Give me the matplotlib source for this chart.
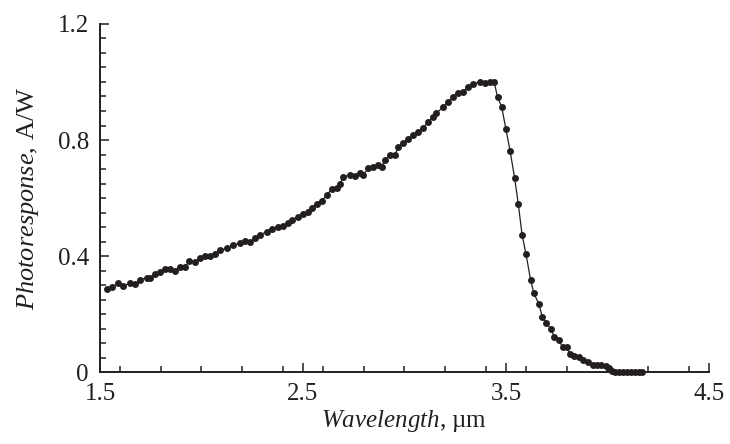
import numpy as np
import matplotlib
matplotlib.use("Agg")
import matplotlib.pyplot as plt
from matplotlib.ticker import MultipleLocator, FixedLocator, FixedFormatter

plt.rcParams['font.family'] = ['Liberation Serif', 'DejaVu Serif']
plt.rcParams['mathtext.fontset'] = 'custom'
plt.rcParams['mathtext.rm'] = 'Liberation Serif'
plt.rcParams['mathtext.it'] = 'Liberation Serif:italic'

# Datos (longitud de onda en um, respuesta en A/W)
wavelength = [
    1.533, 1.558, 1.590, 1.615, 1.648, 1.672, 1.697, 1.730, 1.746, 1.771,
    1.796, 1.820, 1.845, 1.869, 1.894, 1.919, 1.940, 1.968, 1.993, 2.017,
    2.042, 2.067, 2.091, 2.124, 2.157, 2.190, 2.214, 2.239, 2.264, 2.288,
    2.321, 2.346, 2.378, 2.403, 2.428, 2.444, 2.477, 2.501, 2.526, 2.543,
    2.567, 2.592, 2.617, 2.641, 2.666, 2.682, 2.699, 2.732, 2.756, 2.781,
    2.797, 2.822, 2.846, 2.871, 2.888, 2.904, 2.929, 2.953, 2.970, 2.994,
    3.019, 3.043, 3.068, 3.092, 3.117, 3.142, 3.158, 3.191, 3.215, 3.240,
    3.264, 3.289, 3.314, 3.338, 3.372, 3.397, 3.421, 3.442,
    3.459, 3.479, 3.500, 3.521, 3.543, 3.561, 3.580, 3.599, 3.622, 3.638,
    3.663, 3.679, 3.700, 3.720, 3.738, 3.761, 3.780, 3.799, 3.815, 3.837,
    3.861, 3.881, 3.905, 3.927, 3.950, 3.971, 3.993, 4.009, 4.021, 4.037,
    4.055, 4.075, 4.095, 4.115, 4.135, 4.155, 4.170,
]
photoresponse = [
    0.285, 0.294, 0.306, 0.298, 0.306, 0.302, 0.317, 0.326, 0.326, 0.338,
    0.344, 0.357, 0.354, 0.349, 0.363, 0.363, 0.383, 0.380, 0.392, 0.400,
    0.400, 0.407, 0.421, 0.426, 0.438, 0.444, 0.453, 0.449, 0.461, 0.472,
    0.484, 0.492, 0.501, 0.503, 0.513, 0.524, 0.536, 0.544, 0.553, 0.567,
    0.581, 0.591, 0.610, 0.630, 0.633, 0.650, 0.673, 0.679, 0.676, 0.685,
    0.679, 0.702, 0.706, 0.714, 0.708, 0.731, 0.748, 0.748, 0.777, 0.788,
    0.805, 0.817, 0.829, 0.840, 0.863, 0.881, 0.892, 0.915, 0.932, 0.949,
    0.961, 0.967, 0.984, 0.992, 1.001, 0.995, 1.001, 1.001,
    0.947, 0.915, 0.838, 0.761, 0.669, 0.580, 0.472, 0.407, 0.317, 0.271,
    0.234, 0.191, 0.168, 0.150, 0.122, 0.110, 0.085, 0.087, 0.064, 0.055,
    0.051, 0.041, 0.033, 0.026, 0.024, 0.024, 0.021, 0.013, 0.005, 0.0,
    0.0, 0.0, 0.0, 0.0, 0.0, 0.0, 0.0,
]

x_ticks = [1.5, 2.5, 3.5, 4.5]
x_tick_labels = ['1.5', '2.5', '3.5', '4.5']
y_ticks = [0, 0.4, 0.8, 1.2]
y_tick_labels = ['0', '0.4', '0.8', '1.2']

fig = plt.figure(figsize=(7.3, 4.44), dpi=100)
ax = fig.add_axes([0.137, 0.162, 0.834, 0.784])

ax.plot(wavelength, photoresponse, color='#231f20', lw=0.9, marker='o',
        markersize=5.0, markeredgewidth=0, clip_on=False, zorder=3)

ax.set_xlim(1.5, 4.5)
ax.set_ylim(0, 1.2)

ax.xaxis.set_major_locator(FixedLocator(x_ticks))
ax.xaxis.set_major_formatter(FixedFormatter(x_tick_labels))
ax.xaxis.set_minor_locator(MultipleLocator(0.2))
ax.yaxis.set_major_locator(FixedLocator(y_ticks))
ax.yaxis.set_major_formatter(FixedFormatter(y_tick_labels))
ax.yaxis.set_minor_locator(MultipleLocator(0.05))

ax.spines['top'].set_visible(False)
ax.spines['right'].set_visible(False)
for s in ['left', 'bottom']:
    ax.spines[s].set_linewidth(1.4)
    ax.spines[s].set_color('#231f20')

ax.tick_params(which='major', direction='in', length=6.5, width=1.1,
               color='#231f20', labelsize=18, labelcolor='#231f20')
ax.tick_params(which='minor', direction='in', length=4.3, width=1.1,
               color='#231f20')
ax.tick_params(axis='y', which='major', pad=8)
ax.tick_params(axis='x', which='major', pad=8)

ax.set_xlabel(r'$\it{Wavelength}$, µm', fontsize=18, color='#231f20', labelpad=2)
ax.set_ylabel(r'$\it{Photoresponse}$, A/W', fontsize=19, color='#231f20', labelpad=12)

fig.savefig('out.png', dpi=100)
